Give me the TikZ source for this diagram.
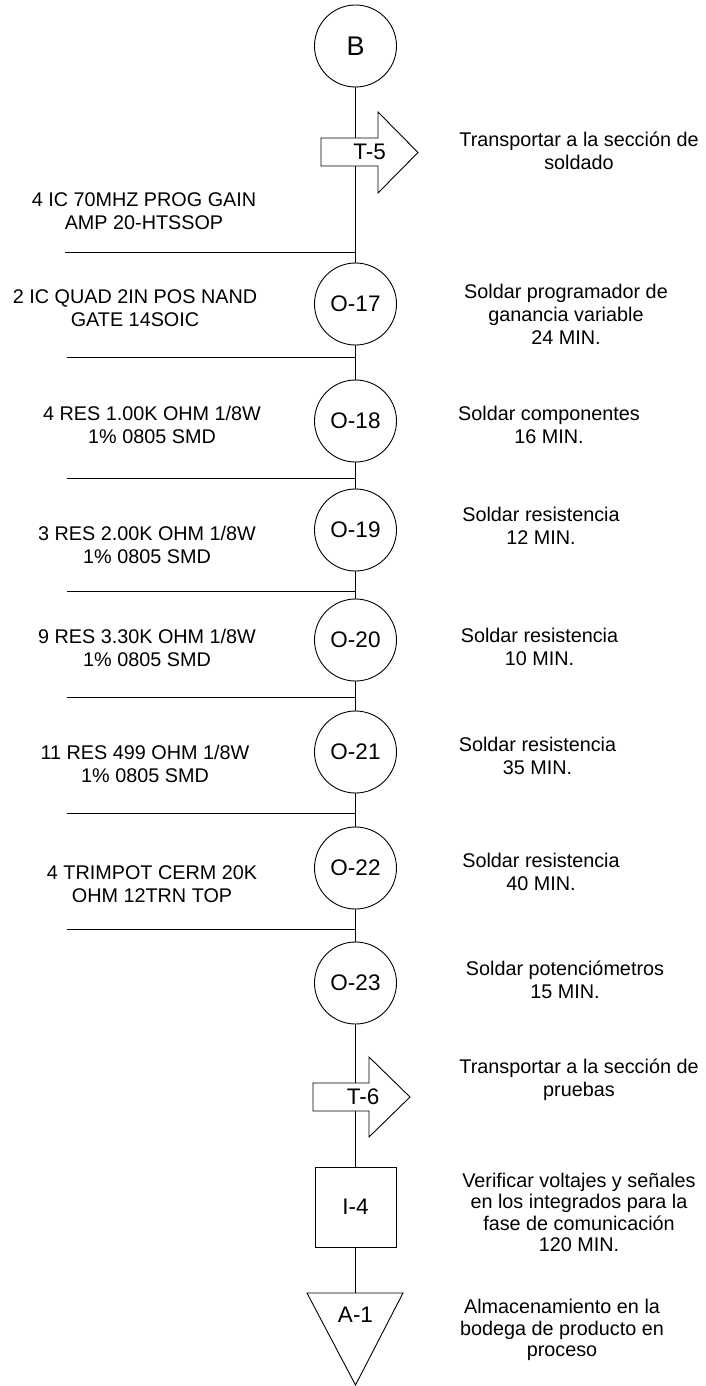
\documentclass[tikz,border=0pt]{standalone}
\usepackage{fontspec}
\setmainfont{Liberation Sans}
\begin{document}
\begin{tikzpicture}[x=1pt,y=-1pt,
  every node/.style={font=\fontsize{19.8}{23}\selectfont},
  ln/.style={line width=0.9pt},
  shapelabel/.style={font=\fontsize{22.5}{26}\selectfont},
  circ/.style={circle,draw,line width=0.9pt,fill=white,minimum size=82pt,inner sep=0pt,shapelabel},
  boxnode/.style={rectangle,draw,line width=0.9pt,fill=white,minimum width=81pt,minimum height=80pt,inner sep=0pt,shapelabel},
  txt/.style={align=center,inner sep=0pt},
  txtb/.style={align=center,inner sep=0pt,font=\fontsize{19.8}{21.4}\selectfont},
  arr/.style={draw,line width=0.9pt,fill=white}]
\useasboundingbox (0,0) rectangle (706,1386);

% main nodes
\node[circ,font=\fontsize{27}{30}\selectfont] (B) at (355.5,46) {B};
\node[circ] (O17) at (355.5,304) {O-17};
\node[circ] (O18) at (355.5,421) {O-18};
\node[circ] (O19) at (355.5,530) {O-19};
\node[circ] (O20) at (355.5,640) {O-20};
\node[circ] (O21) at (355.5,752) {O-21};
\node[circ] (O22) at (355.5,868) {O-22};
\node[circ] (O23) at (355.5,983) {O-23};
\node[boxnode] (I4) at (355.5,1207) {I-4};
\coordinate (A1top) at (355.5,1293);

% vertical flow line
\draw[ln] (B) -- (O17);
\draw[ln] (O17) -- (O18);
\draw[ln] (O18) -- (O19);
\draw[ln] (O19) -- (O20);
\draw[ln] (O20) -- (O21);
\draw[ln] (O21) -- (O22);
\draw[ln] (O22) -- (O23);
\draw[ln] (O23) -- (I4);
\draw[ln] (I4) -- (A1top);

% horizontal feed lines
\coordinate (h1) at (65,252);
\coordinate (h2) at (67,357);
\coordinate (h3) at (67,478);
\coordinate (h4) at (67,591);
\coordinate (h5) at (67,697);
\coordinate (h6) at (67,813);
\coordinate (h7) at (67,929);
\foreach \h in {h1,h2,h3,h4,h5,h6,h7}{\draw[ln] (\h) -- (\h -| B);}

% transport arrows
\path[arr] (321,138) -- (378,138) -- (378,112) -- (418,152.5) -- (378,193) -- (378,166) -- (321,166) -- cycle;
\node[txt,shapelabel] (T5) at (369.5,152) {T-5};
\path[arr] (313,1083) -- (369,1083) -- (369,1057) -- (410,1097) -- (369,1137) -- (369,1111) -- (313,1111) -- cycle;
\node[txt,shapelabel] (T6) at (363,1097) {T-6};

% storage triangle
\path[arr] (307,1293) -- (403,1293) -- (355.5,1385) -- cycle;
\node[txt,shapelabel] (A1) at (355.5,1315) {A-1};

% left texts
\node[txt] (L1) at (144,211.5) {4 IC 70MHZ PROG GAIN\\AMP 20-HTSSOP};
\node[txt] (L2) at (135,308) {2 IC QUAD 2IN POS NAND\\GATE 14SOIC};
\node[txt] (L3) at (152,425) {4 RES 1.00K OHM 1/8W\\1\% 0805 SMD};
\node[txt] (L4) at (147,545) {3 RES 2.00K OHM 1/8W\\1\% 0805 SMD};
\node[txt] (L5) at (147,648) {9 RES 3.30K OHM 1/8W\\1\% 0805 SMD};
\node[txt] (L6) at (145,763.5) {11 RES 499 OHM 1/8W\\1\% 0805 SMD};
\node[txt] (L7) at (152,884) {4 TRIMPOT CERM 20K\\OHM 12TRN TOP};

% right texts
\node[txt] (R1) at (579,151) {Transportar a la sección de\\soldado};
\node[txt] (R2) at (566,314) {Soldar programador de\\ganancia variable\\24 MIN.};
\node[txt] (R3) at (549,425) {Soldar componentes\\16 MIN.};
\node[txt] (R4) at (541,526) {Soldar resistencia\\12 MIN.};
\node[txt] (R5) at (539.5,647) {Soldar resistencia\\10 MIN.};
\node[txt] (R6) at (537.5,755.5) {Soldar resistencia\\35 MIN.};
\node[txt] (R7) at (541,872) {Soldar resistencia\\40 MIN.};
\node[txt] (R8) at (565,980) {Soldar potenciómetros\\15 MIN.};
\node[txt] (R9) at (579,1080) {Transportar a la sección de\\pruebas};
\node[txtb] (R10) at (579,1212.5) {Verificar voltajes y señales\\en los integrados para la\\fase de comunicación\\120 MIN.};
\node[txtb] (R11) at (562,1330) {Almacenamiento en la\\bodega de producto en\\proceso};
\end{tikzpicture}
\end{document}
